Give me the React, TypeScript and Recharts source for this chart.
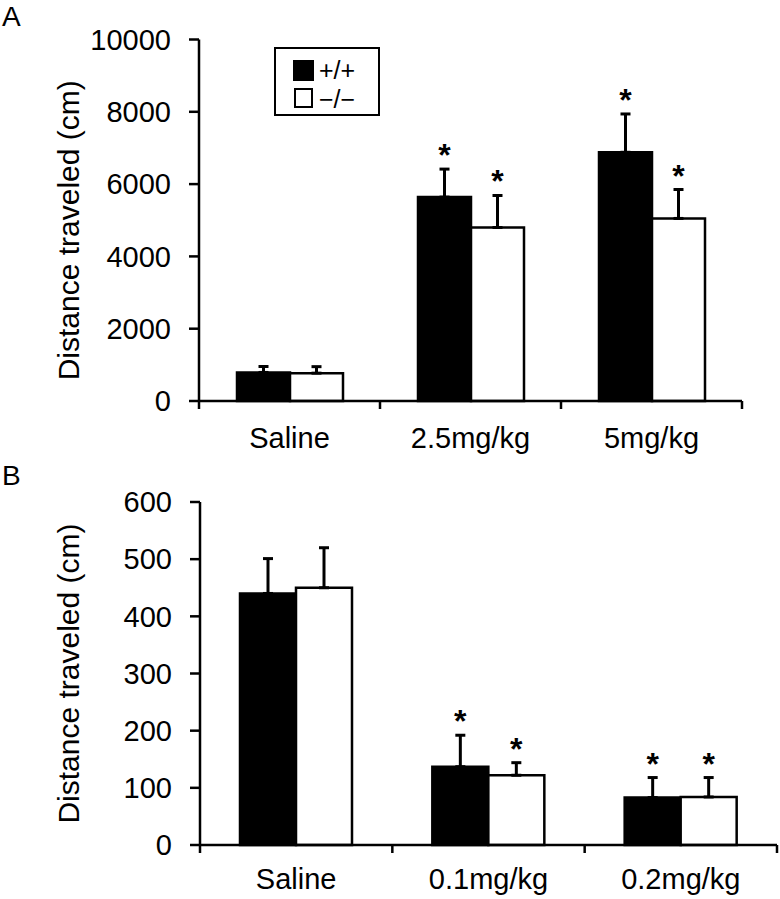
import { BarChart, Bar, XAxis, YAxis, ErrorBar, LabelList, Legend } from "recharts"

const FONT = "'Liberation Sans', Arial, sans-serif"

// panel A - amphetamine doses
const dosesA = ["Saline", "2.5mg/kg", "5mg/kg"]
const wtA = [790, 5640, 6880]
const wtErrA = [165, 775, 1060]
const koA = [770, 4800, 5050]
const koErrA = [180, 885, 800]
const sigA = [false, true, true]
const ticksA = [0, 2000, 4000, 6000, 8000, 10000]

// panel B - second drug doses
const dosesB = ["Saline", "0.1mg/kg", "0.2mg/kg"]
const wtB = [440, 137, 83]
const wtErrB = [61, 55, 35]
const koB = [450, 122, 84]
const koErrB = [70, 22, 34]
const sigB = [false, true, true]
const ticksB = [0, 100, 200, 300, 400, 500, 600]

const buildRows = (doses: string[], wt: number[], wtErr: number[], ko: number[], koErr: number[], sig: boolean[]) =>
  doses.map((dose, i) => ({
    dose,
    wt: wt[i],
    ko: ko[i],
    wtErr: [0, wtErr[i]],
    koErr: [0, koErr[i]],
    sig: sig[i] ? "*" : "",
  }))

const dataA = buildRows(dosesA, wtA, wtErrA, koA, koErrA, sigA)
const dataB = buildRows(dosesB, wtB, wtErrB, koB, koErrB, sigB)

const axisStyle = { stroke: "#000", strokeWidth: 2.5 }
const tickText = { fill: "#000", fontSize: 29, fontFamily: FONT }

function XTick(props: any) {
  const { x, y, payload, index, bandSize, count, labelDy } = props
  const half = payload && payload.offset ? payload.offset : bandSize / 2
  return (
    <g>
      <line x1={x - half} x2={x - half} y1={y} y2={y + 8} stroke="#000" strokeWidth={2.5} />
      {index === count - 1 && (
        <line x1={x + half} x2={x + half} y1={y} y2={y + 8} stroke="#000" strokeWidth={2.5} />
      )}
      <text x={x} y={y + labelDy} textAnchor="middle" {...tickText}>
        {payload.value}
      </text>
    </g>
  )
}

function starContent(values: number[], errs: number[]) {
  return (props: any) => {
    const { x, y, width, height, index, value } = props
    if (!value) return null
    const pxPerUnit = height / values[index]
    const capY = y - errs[index] * pxPerUnit
    const cy = capY - 20
    return (
      <text x={x + width / 2} y={cy + 17} textAnchor="middle" fontSize={32} fontWeight="bold" fontFamily={FONT} fill="#000">
        {value}
      </text>
    )
  }
}

function yLabel(shift: number) {
  return (props: any) => {
    const vb = props.viewBox
    const cx = 68
    const cy = vb.y + vb.height / 2 + shift
    return (
      <text x={cx} y={cy} transform={`rotate(-90, ${cx}, ${cy})`} textAnchor="middle" dominantBaseline="central" {...tickText} fontSize={30}>
        Distance traveled (cm)
      </text>
    )
  }
}

function LegendBox() {
  return (
    <svg width={106} height={69} style={{ display: "block" }}>
      <rect x={1} y={1} width={104} height={67} fill="#fff" stroke="#000" strokeWidth={2} />
      <rect x={20} y={14} width={19} height={19} fill="#000" stroke="#000" strokeWidth={2} />
      <text x={45} y={32} fill="#000" fontSize={25} fontFamily={FONT}>+/+</text>
      <rect x={21} y={42} width={17} height={18} fill="#fff" stroke="#000" strokeWidth={2} />
      <text x={45} y={61} fill="#000" fontSize={25} fontFamily={FONT}>−/−</text>
    </svg>
  )
}

type PanelProps = {
  data: any[]
  values: [number[], number[]]
  errs: [number[], number[]]
  ticks: number[]
  width: number
  height: number
  margin: { top: number; right: number; bottom: number; left: number }
  yAxisWidth: number
  xAxisHeight: number
  gap: number
  labelDy: number
  labelShift: number
  legend?: boolean
}

function Panel(p: PanelProps) {
  const bandSize = (p.width - p.margin.right - p.yAxisWidth) / p.data.length
  return (
    <BarChart width={p.width} height={p.height} data={p.data} margin={p.margin} barGap={0} barCategoryGap={p.gap}>
      <XAxis
        dataKey="dose"
        height={p.xAxisHeight}
        axisLine={axisStyle}
        tickLine={false}
        tickSize={0}
        tickMargin={0}
        interval={0}
        tick={(t: any) => <XTick {...t} bandSize={bandSize} count={p.data.length} labelDy={p.labelDy} />}
      />
      <YAxis
        width={p.yAxisWidth}
        domain={[p.ticks[0], p.ticks[p.ticks.length - 1]]}
        ticks={p.ticks}
        interval={0}
        axisLine={axisStyle}
        tickLine={axisStyle}
        tickSize={10}
        tickMargin={18}
        tick={tickText}
        label={yLabel(p.labelShift)}
      />
      {p.legend && (
        <Legend
          layout="vertical"
          align="center"
          verticalAlign="middle"
          content={() => <LegendBox />}
          wrapperStyle={{ position: "absolute", left: 274, top: 47, width: 106, height: 69 }}
        />
      )}
      <Bar dataKey="wt" name="+/+" fill="#000" stroke="#000" strokeWidth={2.5} isAnimationActive={false}>
        <ErrorBar dataKey="wtErr" width={5} stroke="#000" strokeWidth={3} />
        <LabelList dataKey="sig" content={starContent(p.values[0], p.errs[0])} />
      </Bar>
      <Bar dataKey="ko" name="−/−" fill="#fff" stroke="#000" strokeWidth={2.5} isAnimationActive={false}>
        <ErrorBar dataKey="koErr" width={5} stroke="#000" strokeWidth={3} />
        <LabelList dataKey="sig" content={starContent(p.values[1], p.errs[1])} />
      </Bar>
    </BarChart>
  )
}

export default function App() {
  return (
    <div style={{ position: "absolute", left: 0, top: 0, width: 780, height: 899, background: "#fff", fontFamily: FONT }}>
      <div style={{ position: "absolute", left: 0, top: 0 }}>
        <Panel
          data={dataA}
          values={[wtA, koA]}
          errs={[wtErrA, koErrA]}
          ticks={ticksA}
          width={780}
          height={470}
          margin={{ top: 39.5, right: 38, bottom: 0, left: 0 }}
          yAxisWidth={199}
          xAxisHeight={69}
          gap={38}
          labelDy={47}
          labelShift={10}
          legend
        />
      </div>
      <div style={{ position: "absolute", left: 0, top: 450 }}>
        <Panel
          data={dataB}
          values={[wtB, koB]}
          errs={[wtErrB, koErrB]}
          ticks={ticksB}
          width={780}
          height={449}
          margin={{ top: 52, right: 3, bottom: 0, left: 0 }}
          yAxisWidth={200}
          xAxisHeight={54}
          gap={40}
          labelDy={44}
          labelShift={0}
        />
      </div>
      <div style={{ position: "absolute", left: 2, top: 0, fontSize: 28, lineHeight: "33px", color: "#000" }}>A</div>
      <div style={{ position: "absolute", left: 2, top: 459, fontSize: 28, lineHeight: "33px", color: "#000" }}>B</div>
    </div>
  )
}
